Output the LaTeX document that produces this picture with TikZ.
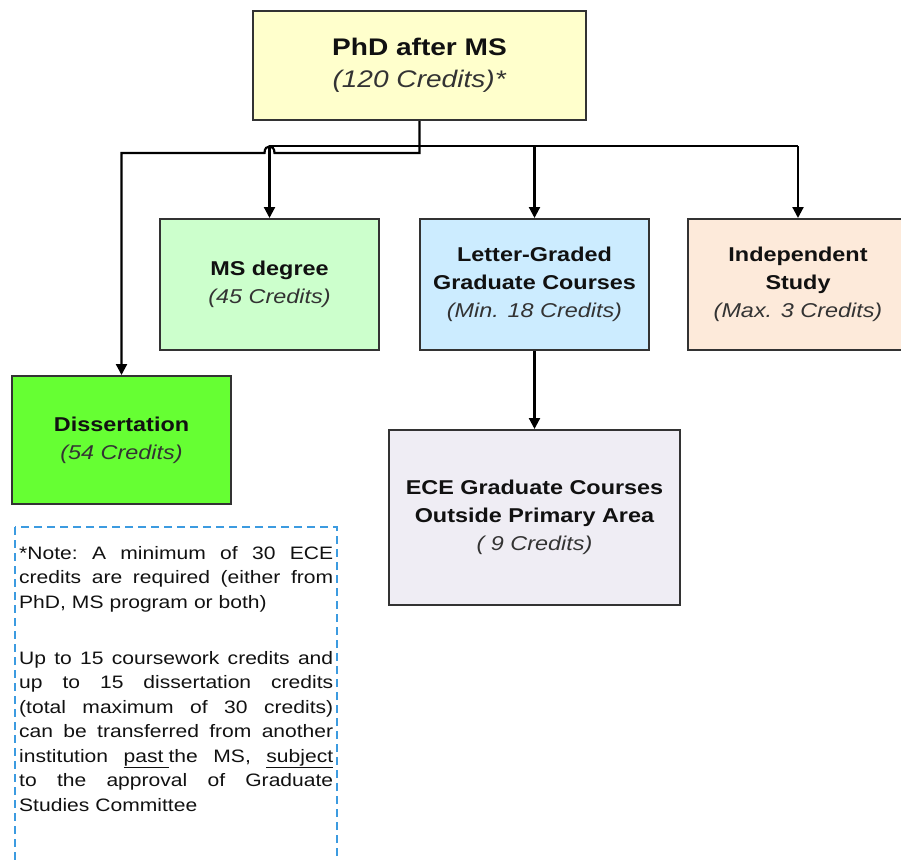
\documentclass[tikz,border=0pt]{standalone}
\usepackage{fontspec}
\setmainfont{Liberation Sans}[FakeStretch=1.17]
\usetikzlibrary{arrows.meta}
\definecolor{cphd}{HTML}{FFFFCC}
\definecolor{cms}{HTML}{CCFFCC}
\definecolor{clg}{HTML}{CCECFF}
\definecolor{cind}{HTML}{FDEADA}
\definecolor{cdiss}{HTML}{66FF33}
\definecolor{cece}{HTML}{EFEDF4}
\definecolor{boxline}{HTML}{333333}
\definecolor{txt}{HTML}{111111}
\definecolor{ittxt}{HTML}{333333}
\definecolor{noteblue}{HTML}{3C9BE0}
\newcommand{\jline}[1]{\makebox[314pt][s]{\spaceskip=0.278em plus 1fil\xspaceskip=0.278em plus 1fil\relax #1}}
\begin{document}
\begin{tikzpicture}[x=1pt,y=-1pt,
  box/.style={draw=boxline,line width=2pt,inner sep=0pt,align=center,text=txt,
    font=\fontsize{20}{28}\selectfont},
  line/.style={draw=black,line width=2.2pt},
  conn/.style={line,-{Triangle[length=11pt,width=11pt]}},
  notebox/.style={draw=noteblue,line width=1.5pt,dash pattern=on 8pt off 5pt},
  notetext/.style={inner sep=0pt,text width=314pt,align=left,text=txt,
    font=\fontsize{18}{24.5}\selectfont}]
\useasboundingbox (0,0) rectangle (901,859);

% boxes
\node[box,fill=cphd,minimum width=333pt,minimum height=109pt,
  font=\fontsize{24}{32}\selectfont] (phd) at (419.5,65.5)
  {\textbf{PhD after MS}\\\textcolor{ittxt}{\textit{(120 Credits)*}}};
\node[box,fill=cms,minimum width=219pt,minimum height=131pt] (ms) at (269.5,284.5)
  {\textbf{MS degree}\\\textcolor{ittxt}{\textit{(45 Credits)}}};
\node[box,fill=clg,minimum width=229pt,minimum height=131pt] (lg) at (534.5,284.5)
  {\textbf{Letter-Graded}\\\textbf{Graduate Courses}\\\textcolor{ittxt}{\textit{(Min. 18 Credits)}}};
\node[box,fill=cind,minimum width=220pt,minimum height=131pt] (ind) at (798,284.5)
  {\textbf{Independent}\\\textbf{Study}\\\textcolor{ittxt}{\textit{(Max. 3 Credits)}}};
\node[box,fill=cdiss,minimum width=219pt,minimum height=128pt] (diss) at (121.5,440)
  {\textbf{Dissertation}\\\textcolor{ittxt}{\textit{(54 Credits)}}};
\node[box,fill=cece,minimum width=291pt,minimum height=175pt] (ece) at (534.5,517.5)
  {\textbf{ECE Graduate Courses}\\\textbf{Outside Primary Area}\\\textcolor{ittxt}{\textit{( 9 Credits)}}};

% helper coordinates
\coordinate (busy) at (0,146);
\coordinate (hopy) at (0,153);

% connectors
\draw[conn] (phd.south) -- (phd.south |- hopy)
  -- ([xshift=5pt]ms.north |- hopy)
  .. controls ([xshift=5pt]ms.north |- 0,144) and ([xshift=-5pt]ms.north |- 0,144) ..
  ([xshift=-5pt]ms.north |- hopy)
  -- (diss.north |- hopy) -- (diss.north);
\draw[line] (ms.north |- busy) -- (ind.north |- busy);
\draw[conn] (ms.north |- busy) -- (ms.north);
\draw[conn] (lg.north |- busy) -- (lg.north);
\draw[conn] (ind.north |- busy) -- (ind.north);
\draw[conn] (lg.south) -- (ece.north);

% note
\draw[notebox] (15,527) rectangle (337,875);
\node[notetext,anchor=north west] (note) at (19,546) {%
\jline{*Note: A minimum of 30 ECE}\\
\jline{credits are required (either from}\\
PhD, MS program or both)\\[31.5pt]
\jline{Up to 15 coursework credits and}\\
\jline{up to 15 dissertation credits}\\
\jline{(total maximum of 30 credits)}\\
\jline{can be transferred from another}\\
\jline{institution \underline{past\ }the MS, \underline{subject}}\\
\jline{to the approval of Graduate}\\
Studies Committee};
\end{tikzpicture}
\end{document}
